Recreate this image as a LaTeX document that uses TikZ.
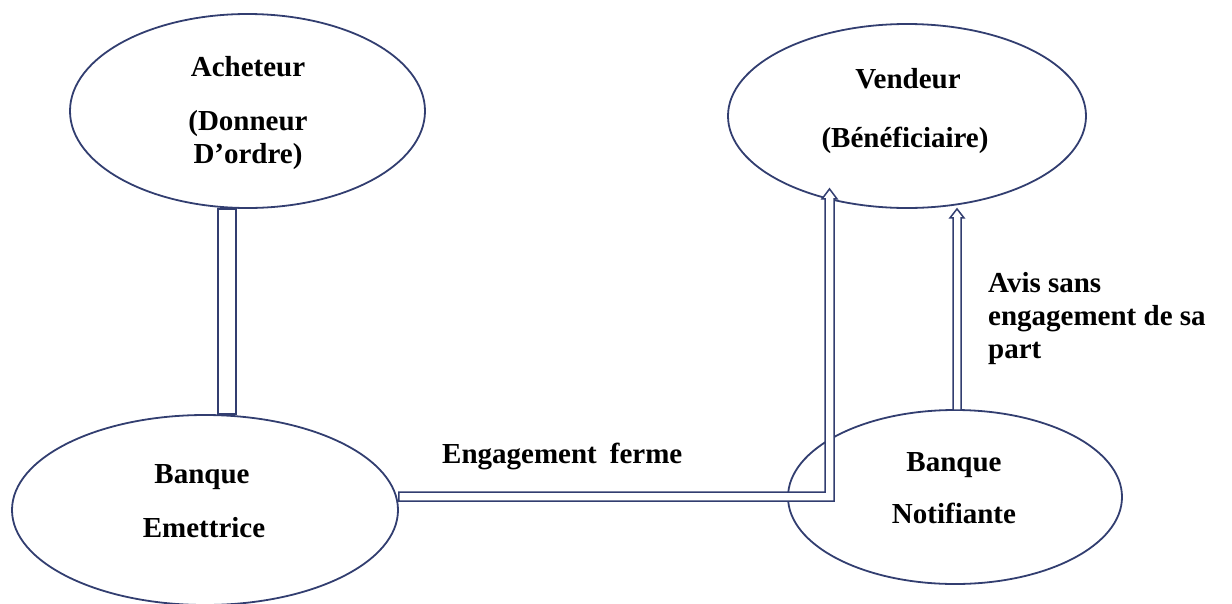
\documentclass[tikz,border=0pt]{standalone}
\usepackage{fontspec}
\setmainfont{Liberation Serif}
\usetikzlibrary{shapes.geometric,calc}
\definecolor{navy}{RGB}{50,62,112}
\begin{document}
\begin{tikzpicture}[x=1pt,y=-1pt,
  party/.style={ellipse,draw=navy,line width=1.8pt,inner sep=0pt},
  lbl/.style={anchor=base,inner sep=0pt,font=\fontsize{29}{33}\selectfont\bfseries},
  hollow/.style={draw=navy,fill=white,line width=1.5pt,line join=miter}]
\useasboundingbox (0,0) rectangle (1232,603);

% the four parties
\node[party,minimum width=355pt,minimum height=194pt] (ach) at (247.5,111) {};
\node[party,minimum width=358pt,minimum height=184pt] (ven) at (907,116) {};
\node[party,minimum width=386pt,minimum height=190pt] (emi) at (205,510) {};
\node[party,minimum width=334pt,minimum height=174pt] (notif) at (955,497) {};

% buyer -- issuing bank : plain hollow bar
\coordinate (achFoot) at ($(ach.south)+(-20.5,0)$);
\coordinate (emiTop) at ($(emi.north)+(22,0)$);
\draw[hollow] ($(achFoot)+(-9,0)$) rectangle ($(emiTop)+(9,0)$);

% issuing bank -> seller : firm commitment (L-shaped hollow arrow)
\coordinate (eTail) at ($(emi.east)+(0,-13.5)$);
\coordinate (eTip) at ($(ven.south)+(-77.5,-20)$);
\coordinate (eCorner) at (eTip |- eTail);
\draw[hollow] ($(eTail)+(0,-4.5)$) -- ($(eCorner)+(-4.5,-4.5)$)
  -- ($(eTip)+(-4.5,10)$) -- ($(eTip)+(-7.5,10)$) -- (eTip)
  -- ($(eTip)+(7.5,10)$) -- ($(eTip)+(4.5,10)$)
  -- ($(eCorner)+(4.5,4.5)$) -- ($(eTail)+(0,4.5)$) -- cycle;

% notifying bank -> seller : advice without commitment
\coordinate (nTail) at ($(notif.north)+(2,1)$);
\coordinate (nTip) at ($(ven.south)+(50,0)$);
\draw[hollow] ($(nTail)+(-4,0)$) -- ($(nTip)+(-4,9)$) -- ($(nTip)+(-7,9)$)
  -- (nTip) -- ($(nTip)+(7,9)$) -- ($(nTip)+(4,9)$) -- ($(nTail)+(4,0)$) -- cycle;

% labels
\node[lbl] (achA) at (248,76) {Acheteur};
\node[lbl] (achB) at (248,130) {(Donneur};
\node[lbl] (achC) at (248,163) {D’ordre)};
\node[lbl] (venA) at (908,88) {Vendeur};
\node[lbl] (venB) at (905,147) {(Bénéficiaire)};
\node[lbl] (emiA) at (202,483) {Banque};
\node[lbl] (emiB) at (204,537) {Emettrice};
\node[lbl] (notA) at (954,471) {Banque};
\node[lbl] (notB) at (954,523) {Notifiante};
\node[lbl,anchor=base west] (eng) at (442,463) {Engagement\hspace{0.45em}ferme};
\node[lbl,anchor=base west] (av1) at (988,292) {Avis sans};
\node[lbl,anchor=base west] (av2) at (988,325) {engagement de sa};
\node[lbl,anchor=base west] (av3) at (988,358) {part};
\end{tikzpicture}
\end{document}
